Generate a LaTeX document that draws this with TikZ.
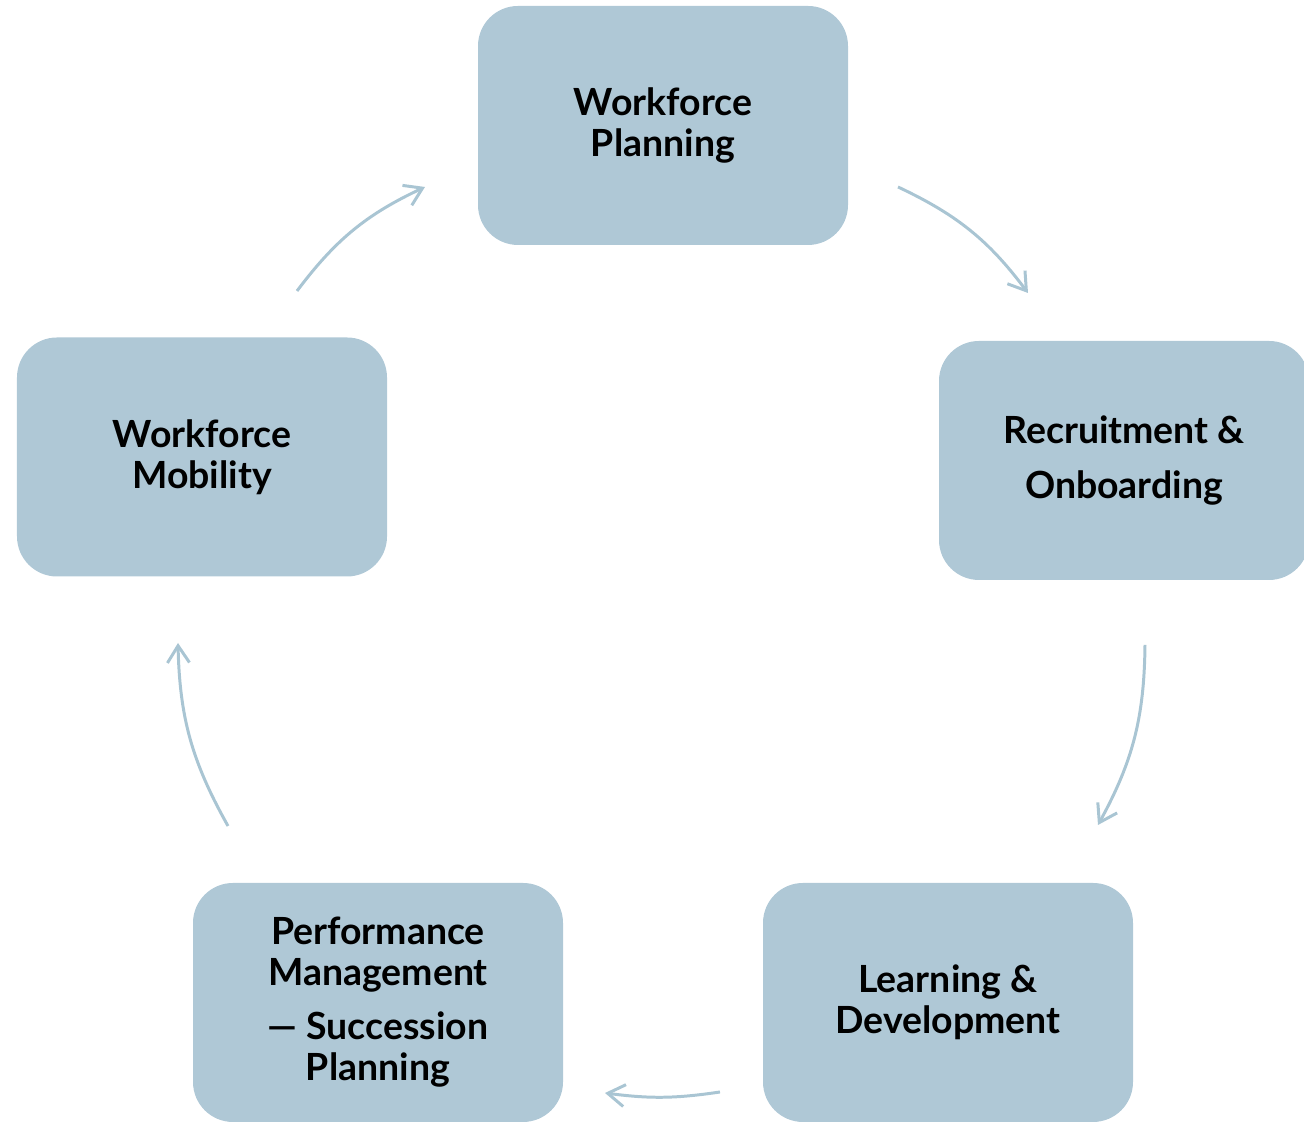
\documentclass[tikz,border=0pt]{standalone}
\usepackage{xcolor}
\usepackage{tikz}
\usepackage{fontspec}
\setmainfont{Lato}
\usetikzlibrary{positioning, arrows.meta, calc}
\definecolor{boxblue}{RGB}{175, 200, 214}
\definecolor{arrowblue}{RGB}{169, 197, 211}

\begin{document}
\begin{tikzpicture}[
    stage/.style={fill=boxblue, rounded corners=0.8cm, minimum width=7.4cm, minimum height=4.78cm,
        align=center, font=\fontsize{21.3}{23.3}\selectfont\bfseries},
    flow/.style={arrowblue, line width=1.7pt, -{Straight Barb[length=3.4mm, width=4.4mm]}}
]
	\useasboundingbox (0,0) rectangle (26.08cm,22.44cm);

	\node[stage] (plan) at (13.26cm, 19.93cm) {Workforce\\Planning};
	\node[stage] (recr) at (22.48cm, 13.23cm) {Recruitment \&\\[0.3cm]Onboarding};
	\node[stage] (learn) at (18.96cm, 2.39cm) {Learning \&\\Development};
	\node[stage] (perf) at (7.56cm, 2.39cm) {Performance\\Management\\[0.26cm]--- Succession\\Planning};
	\node[stage] (mob) at (4.04cm, 13.3cm) {Workforce\\Mobility};

	% arrow ends
	\coordinate (a1) at (17.96cm, 18.7cm);
	\coordinate (b1) at (20.56cm, 16.58cm);
	\coordinate (a2) at (22.9cm, 9.54cm);
	\coordinate (b2) at (21.96cm, 5.94cm);
	\coordinate (a3) at (14.4cm, 0.6cm);
	\coordinate (b3) at (12.1cm, 0.58cm);
	\coordinate (a4) at (4.56cm, 5.92cm);
	\coordinate (b4) at (3.56cm, 9.58cm);
	\coordinate (a5) at (5.94cm, 16.62cm);
	\coordinate (b5) at (8.5cm, 18.7cm);

	\draw[flow] (a1) to[bend left=14] (b1);
	\draw[flow] (a2) to[bend left=14] (b2);
	\draw[flow] (a3) to[bend left=8] (b3);
	\draw[flow] (a4) to[bend left=14] (b4);
	\draw[flow] (a5) to[bend left=14] (b5);
\end{tikzpicture}
\end{document}
